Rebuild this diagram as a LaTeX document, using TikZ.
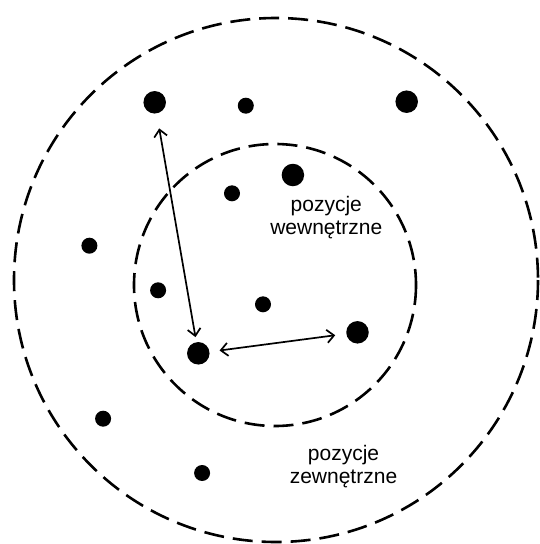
\documentclass[tikz,border=0pt]{standalone}
\usepackage{fontspec}
\setmainfont{Liberation Sans}
\usetikzlibrary{arrows.meta}
\tikzset{
  ring/.style={line width=2.6pt, dash pattern=on 20pt off 9pt},
  bigdot/.style={circle, fill=black, inner sep=0pt, minimum size=22.5pt},
  smalldot/.style={circle, fill=black, inner sep=0pt, minimum size=16pt},
  link/.style={line width=1.7pt, {Straight Barb[length=7pt,width=13pt]}-{Straight Barb[length=7pt,width=13pt]}},
  label/.style={align=center, font=\fontsize{21}{23}\selectfont}
}
\begin{document}
\begin{tikzpicture}[x=1pt, y=-1pt]
  \useasboundingbox (0,0) rectangle (539,544);
  % the two zones
  \draw[ring] (276,280) circle (262);
  \draw[ring] (275,285) circle (141);
  % positions
  \node[bigdot] (A) at (154.7,102.3) {};
  \node[smalldot] (a1) at (245.8,105.7) {};
  \node[bigdot] (B) at (406.7,101.7) {};
  \node[bigdot] (C) at (292.9,175) {};
  \node[smalldot] (a2) at (232,193.3) {};
  \node[smalldot] (a3) at (89.4,245.7) {};
  \node[smalldot] (a4) at (158.1,290.3) {};
  \node[smalldot] (a5) at (263,304.3) {};
  \node[bigdot] (D) at (357.5,332.3) {};
  \node[bigdot] (E) at (198.3,353.3) {};
  \node[smalldot] (a6) at (103.1,418.7) {};
  \node[smalldot] (a7) at (202.1,473) {};
  % swaps
  \draw[link, shorten <=15pt, shorten >=5pt] (A) -- (E);
  \draw[link, shorten <=10pt, shorten >=11pt] (E) -- (D);
  % zone labels
  \node[label] (inner) at (326.3,217.5) {pozycje\\wewnętrzne};
  \node[label] (outer) at (343.5,467) {pozycje\\zewnętrzne};
\end{tikzpicture}
\end{document}
